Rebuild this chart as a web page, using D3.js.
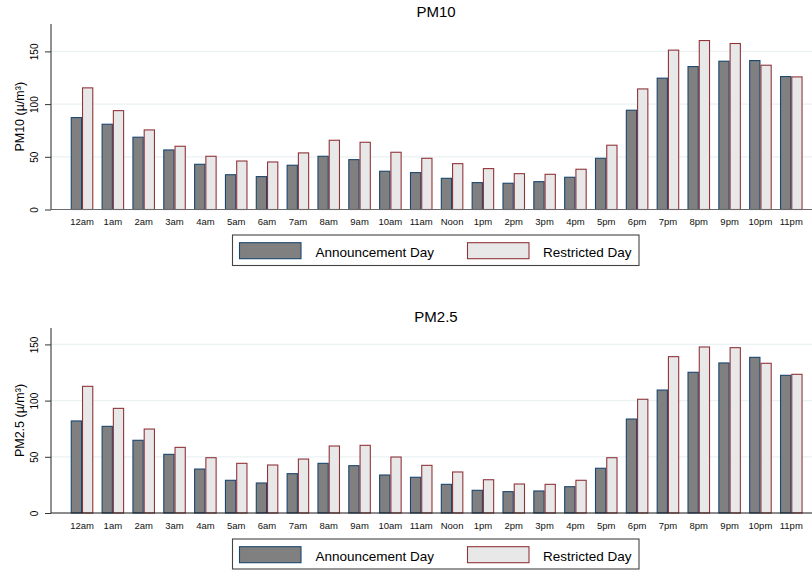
<!DOCTYPE html>
<html><head><meta charset="utf-8">
<script src="https://cdn.jsdelivr.net/npm/d3@7"></script>
<style>body{margin:0;background:#fff;} svg{display:block;font-family:"Liberation Sans",Arial,Helvetica,sans-serif;}</style>
</head><body>
<svg id="chart" width="812" height="571"></svg>
<script>
const hours = ["12am","1am","2am","3am","4am","5am","6am","7am","8am","9am","10am","11am","Noon","1pm","2pm","3pm","4pm","5pm","6pm","7pm","8pm","9pm","10pm","11pm"];
const seriesNames = ["Announcement Day","Restricted Day"];
const pm10Announcement = [87.2,80.9,68.6,56.5,42.9,33,31.2,42,50.5,47.3,36.3,35,29.6,25.5,24.9,26.4,30.6,48.6,94.2,124.6,135.6,140.7,141.3,126.1];
const pm10Restricted   = [115.4,93.8,75.5,60,50.5,46,45.1,53.7,65.7,63.8,54.3,48.6,43.5,38.8,34,33.4,38.2,61,114.4,151.2,160.3,157.5,136.9,125.8];
const pm25Announcement = [81.9,77.1,64.7,52.2,39.1,29.1,26.7,35,44.2,42.1,33.8,31.8,25.5,20.2,19,19.6,23.4,39.8,83.6,109.4,125.2,133.5,138.5,122.5];
const pm25Restricted   = [112.7,93.1,74.7,58.4,49.2,44.2,42.7,48,59.6,60.2,49.8,42.4,36.5,29.6,25.8,25.5,29.1,49.2,101.2,139.1,147.7,147.1,133.2,123.4];
const yTicks = [0,50,100,150];

const fills = ["#808080","#e8e8e8"];
const strokes = ["#1a476f","#90353b"];
const svg = d3.select("#chart");

function panel(cfg){
  const g = svg.append("g");
  const y = d3.scaleLinear().domain([0, cfg.yMax]).range([cfg.base, cfg.top]);
  const x0 = d3.scaleBand().domain(hours).range([66.6, 806.7]).paddingInner(0.27).paddingOuter(0.135);
  const x1 = d3.scaleBand().domain(seriesNames).range([0, x0.bandwidth()]);
  // gridlines
  g.selectAll("line.grid").data(yTicks.filter(d=>d>0)).join("line")
    .attr("x1",51).attr("x2",812).attr("y1",d=>y(d)).attr("y2",d=>y(d))
    .attr("stroke","#eaf2f3").attr("stroke-width",1.3);
  // bars
  const rows = hours.map((h,i)=>({h, vals:[cfg.a[i], cfg.r[i]]}));
  const grp = g.selectAll("g.h").data(rows).join("g").attr("transform",d=>`translate(${x0(d.h)},0)`);
  grp.selectAll("rect").data(d=>d.vals.map((v,j)=>({v,j}))).join("rect")
    .attr("x",d=>x1(seriesNames[d.j])+0.5).attr("width",x1.bandwidth()-1)
    .attr("y",d=>y(d.v)).attr("height",d=>y(0)-y(d.v))
    .attr("fill",d=>fills[d.j]).attr("stroke",d=>strokes[d.j]).attr("stroke-width",1.1);
  // baseline
  g.append("line").attr("x1",51).attr("x2",812).attr("y1",y(0)).attr("y2",y(0))
    .attr("stroke",cfg.baseColor).attr("stroke-width",1.2);
  // y axis
  const ya = g.append("g").attr("transform","translate(51,0)")
    .call(d3.axisLeft(y).tickValues(yTicks).tickSize(6).tickFormat(d3.format("d")));
  ya.select(".domain").attr("stroke","#222").attr("d",`M0,${cfg.top}V${cfg.base}`);
  ya.selectAll(".tick line").attr("stroke","#333");
  ya.selectAll(".tick text").attr("x",null).attr("dy",null).attr("text-anchor","middle")
    .attr("transform","translate(-13.5,0) rotate(-90)").attr("font-size",10).attr("fill","#000")
    .attr("font-family","Liberation Sans, Arial, sans-serif");
  // x labels
  g.append("g").selectAll("text").data(hours).join("text")
    .attr("x",d=>x0(d)+x0.bandwidth()/2).attr("y",cfg.base+15.5)
    .attr("text-anchor","middle").attr("font-size",9.5).attr("fill","#111").text(d=>d);
  // y title
  const yt = g.append("text").attr("transform",`translate(24,${(cfg.top+cfg.base)/2}) rotate(-90)`)
    .attr("text-anchor","middle").attr("font-size",12.5).attr("fill","#000");
  yt.text(cfg.ytitle);
  // title
  g.append("text").attr("x",436).attr("y",cfg.titleY).attr("text-anchor","middle")
    .attr("font-size",15).attr("fill","#000").text(cfg.title);
  // legend
  const L = g.append("g").attr("transform",`translate(232.5,${cfg.legTop})`);
  L.append("rect").attr("x",0).attr("y",0).attr("width",406.5).attr("height",cfg.legH)
    .attr("fill","#fff").attr("stroke","#444").attr("stroke-width",1.1);
  const sw = [[7, 0],[235, 1]];
  sw.forEach(([sx,j])=>{
    L.append("rect").attr("x",sx).attr("y",cfg.swY).attr("width",61.5).attr("height",16)
      .attr("fill",fills[j]).attr("stroke",strokes[j]).attr("stroke-width",1.1);
  });
  L.append("text").attr("x",83).attr("y",cfg.txtY).attr("font-size",13.5).attr("fill","#000").text(seriesNames[0]);
  L.append("text").attr("x",310.5).attr("y",cfg.txtY).attr("font-size",13.5).attr("fill","#000").text(seriesNames[1]);
}

panel({a:pm10Announcement, r:pm10Restricted, yMax:176, top:24, base:209.5, baseColor:"#6a6a6a",
  title:"PM10", titleY:17, ytitle:"PM10 (µ/m³)", legTop:235, legH:30.5, swY:7.7, txtY:22.3});
panel({a:pm25Announcement, r:pm25Restricted, yMax:164.6, top:328, base:513, baseColor:"#1a1a1a",
  title:"PM2.5", titleY:322, ytitle:"PM2.5 (µ/m³)", legTop:539, legH:30, swY:7.7, txtY:22.3});
</script>
</body></html>
